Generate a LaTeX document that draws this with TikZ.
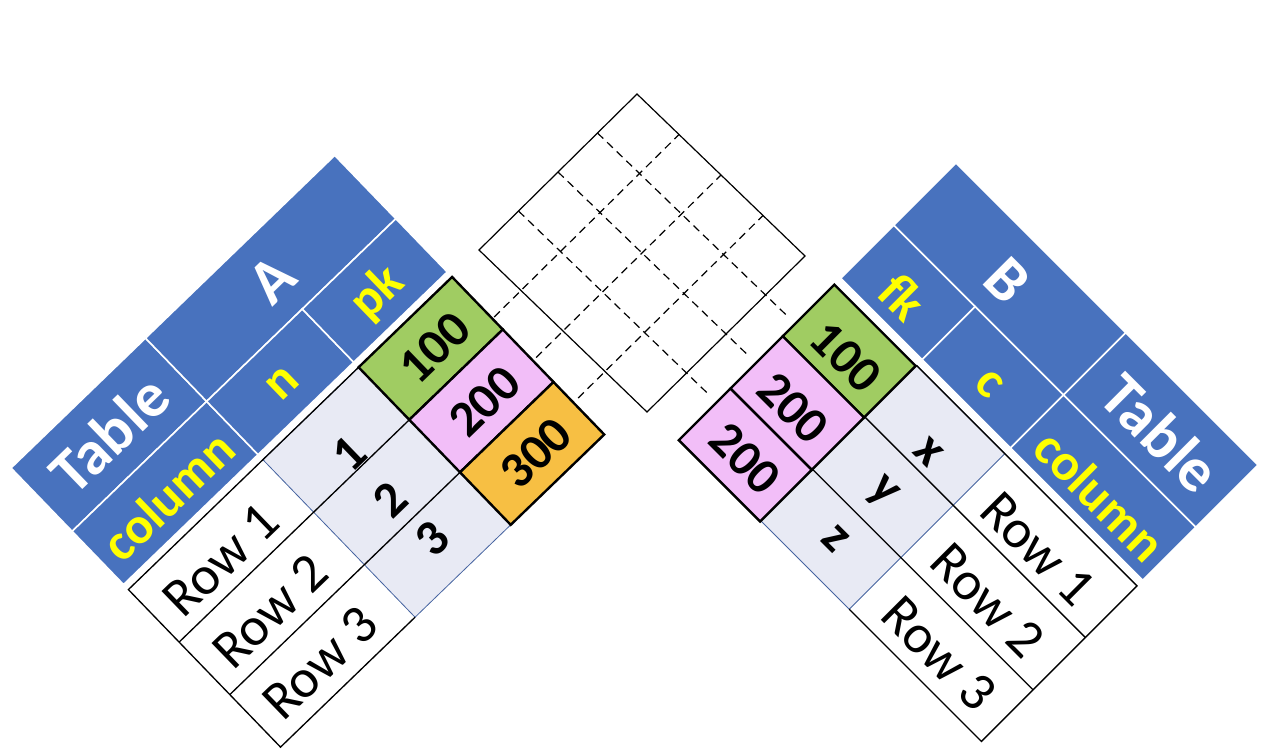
\documentclass[tikz,border=0pt]{standalone}
\usepackage{fontspec}
\setmainfont{Carlito}
\usepackage{xcolor}
\usepackage{tikz}
\usetikzlibrary{calc}

\definecolor{tblblue}{RGB}{72,114,190}
\definecolor{tblyellow}{RGB}{255,255,0}
\definecolor{keygreen}{RGB}{160,204,98}
\definecolor{keypink}{RGB}{242,190,248}
\definecolor{keyorange}{RGB}{247,191,67}
\definecolor{lavender}{RGB}{232,234,244}
\definecolor{lavline}{RGB}{70,100,160}

\begin{document}
\begin{tikzpicture}[x=0.75pt,y=0.75pt,yscale=-1,xscale=1,
  hdrcell/.style={fill=tblblue,draw=white,line width=1.2pt},
  keycell/.style={draw=black,line width=1.8pt},
  lavcell/.style={fill=lavender,draw=lavline,line width=0.6pt},
  rowline/.style={draw=black,line width=1pt},
  gridline/.style={draw=black,line width=0.9pt,dash pattern=on 6pt off 4pt},
  hdrtxt/.style={inner sep=0pt,text=white,font=\fontsize{47}{49}\selectfont\bfseries},
  coltxt/.style={inner sep=0pt,text=tblyellow,font=\fontsize{39}{41}\selectfont\bfseries},
  rowtxt/.style={inner sep=0pt,font=\fontsize{41}{43}\selectfont},
  valtxt/.style={inner sep=0pt,font=\fontsize{38}{40}\selectfont\bfseries}]
\path[use as bounding box] (0,0) rectangle (1280,750);

%Table A, turned up to the right
\begin{scope}[shift={(11,468)},rotate=-44]
%Shape: Rectangle [header]
\path[hdrcell] (0,0) rectangle (187,88);
\path[hdrcell] (187,0) rectangle (450,88);
\path[hdrcell] (0,88) rectangle (187,162);
\path[hdrcell] (187,88) rectangle (320,162);
\path[hdrcell] (320,88) rectangle (450,162);
%Shape: Rectangle [n column]
\path[lavcell] (187,169) rectangle (320,388);
%Straight Lines [rows]
\draw[rowline] (187,388) -- (0,388) -- (0,169) -- (320,169);
\draw[rowline] (0,242) -- (320,242);
\draw[rowline] (0,315) -- (320,315);
%Shape: Rectangle [pk values]
\path[keycell,fill=keygreen] (320,169) rectangle (450,242);
\path[keycell,fill=keypink] (320,242) rectangle (450,315);
\path[keycell,fill=keyorange] (320,315) rectangle (450,388);

% Text Node
\node[hdrtxt,rotate=44] (tblA) at (94,44) {Table};
% Text Node
\node[hdrtxt,rotate=44] (nameA) at (319,46) {A};
% Text Node
\node[coltxt,rotate=44] (colA) at (93.5,129) {column};
% Text Node
\node[coltxt,rotate=44] (nA) at (254,128) {n};
% Text Node
\node[coltxt,rotate=44] (pkA) at (385,129) {pk};
% Text Node
\node[rowtxt,rotate=44] (rowA1) at (87,212) {Row 1};
% Text Node
\node[rowtxt,rotate=44] (rowA2) at (87,283) {Row 2};
% Text Node
\node[rowtxt,rotate=44] (rowA3) at (87,355) {Row 3};
% Text Node
\node[valtxt,rotate=44] (nA1) at (253,225) {1};
% Text Node
\node[valtxt,rotate=44] (nA2) at (251,286) {2};
% Text Node
\node[valtxt,rotate=44] (nA3) at (254,344) {3};
% Text Node
\node[valtxt,rotate=44] (pkA1) at (388,208) {100};
% Text Node
\node[valtxt,rotate=44] (pkA2) at (387,281) {200};
% Text Node
\node[valtxt,rotate=44] (pkA3) at (388,354) {300};
\end{scope}

%Table B, turned down to the right
\begin{scope}[shift={(956,163)},rotate=45]
%Shape: Rectangle [header]
\path[hdrcell] (0,0) rectangle (240,88);
\path[hdrcell] (240,0) rectangle (427,88);
\path[hdrcell] (0,88) rectangle (115,163);
\path[hdrcell] (115,88) rectangle (240,163);
\path[hdrcell] (240,88) rectangle (427,163);
%Shape: Rectangle [c column]
\path[lavcell] (115,171) rectangle (240,391);
%Straight Lines [rows]
\draw[rowline] (240,391) -- (427,391) -- (427,171) -- (115,171);
\draw[rowline] (115,244) -- (427,244);
\draw[rowline] (115,318) -- (427,318);
%Shape: Rectangle [fk values]
\path[keycell,fill=keygreen] (0,172) rectangle (115,245);
\path[keycell,fill=keypink] (0,245) rectangle (115,319);
\path[keycell,fill=keypink] (0,319) rectangle (115,392);

% Text Node
\node[hdrtxt,rotate=-45] (nameB) at (119,47) {B};
% Text Node
\node[hdrtxt,rotate=-45] (tblB) at (336,46) {Table};
% Text Node
\node[coltxt,rotate=-45] (fkB) at (57.5,132) {fk};
% Text Node
\node[coltxt,rotate=-45] (cB) at (180,133) {c};
% Text Node
\node[coltxt,rotate=-45] (colB) at (337,133) {column};
% Text Node
\node[valtxt,rotate=-45] (fkB1) at (59,215) {100};
% Text Node
\node[valtxt,rotate=-45] (fkB2) at (58,288) {200};
% Text Node
\node[valtxt,rotate=-45] (fkB3) at (60,358) {200};
% Text Node
\node[valtxt,rotate=-45] (cB1) at (185,224) {x};
% Text Node
\node[valtxt,rotate=-45] (cB2) at (181,286) {y};
% Text Node
\node[valtxt,rotate=-45] (cB3) at (181,351) {z};
% Text Node
\node[rowtxt,rotate=-45] (rowB1) at (331,215) {Row 1};
% Text Node
\node[rowtxt,rotate=-45] (rowB2) at (332,287) {Row 2};
% Text Node
\node[rowtxt,rotate=-45] (rowB3) at (335,359) {Row 3};
\end{scope}

%Shape: Square [join grid]
\coordinate (gL) at (479,250);
\coordinate (gT) at (637,94);
\coordinate (gR) at (805,256);
\coordinate (gB) at (647,412);
\draw[line width=0.9pt] (gL) -- (gT) -- (gR) -- (gB) -- cycle;

%Dashed Lines [from the rows of A]
\coordinate (a1) at ($(gL)!0.25!(gB)$);
\coordinate (b1) at ($(gT)!0.25!(gR)$);
\coordinate (a2) at ($(gL)!0.5!(gB)$);
\coordinate (b2) at ($(gT)!0.5!(gR)$);
\coordinate (a3) at ($(gL)!0.75!(gB)$);
\coordinate (b3) at ($(gT)!0.75!(gR)$);
\draw[gridline] ($(a1)!-0.17!(b1)$) -- (b1);
\draw[gridline] ($(a2)!-0.17!(b2)$) -- (b2);
\draw[gridline] ($(a3)!-0.17!(b3)$) -- (b3);

%Dashed Lines [from the rows of B]
\coordinate (c1) at ($(gL)!0.25!(gT)$);
\coordinate (d1) at ($(gB)!0.25!(gR)$);
\coordinate (c2) at ($(gL)!0.5!(gT)$);
\coordinate (d2) at ($(gB)!0.5!(gR)$);
\coordinate (c3) at ($(gL)!0.75!(gT)$);
\coordinate (d3) at ($(gB)!0.75!(gR)$);
\draw[gridline] (c1) -- ($(c1)!1.125!(d1)$);
\draw[gridline] (c2) -- ($(c2)!1.125!(d2)$);
\draw[gridline] (c3) -- ($(c3)!1.125!(d3)$);

\end{tikzpicture}
\end{document}
